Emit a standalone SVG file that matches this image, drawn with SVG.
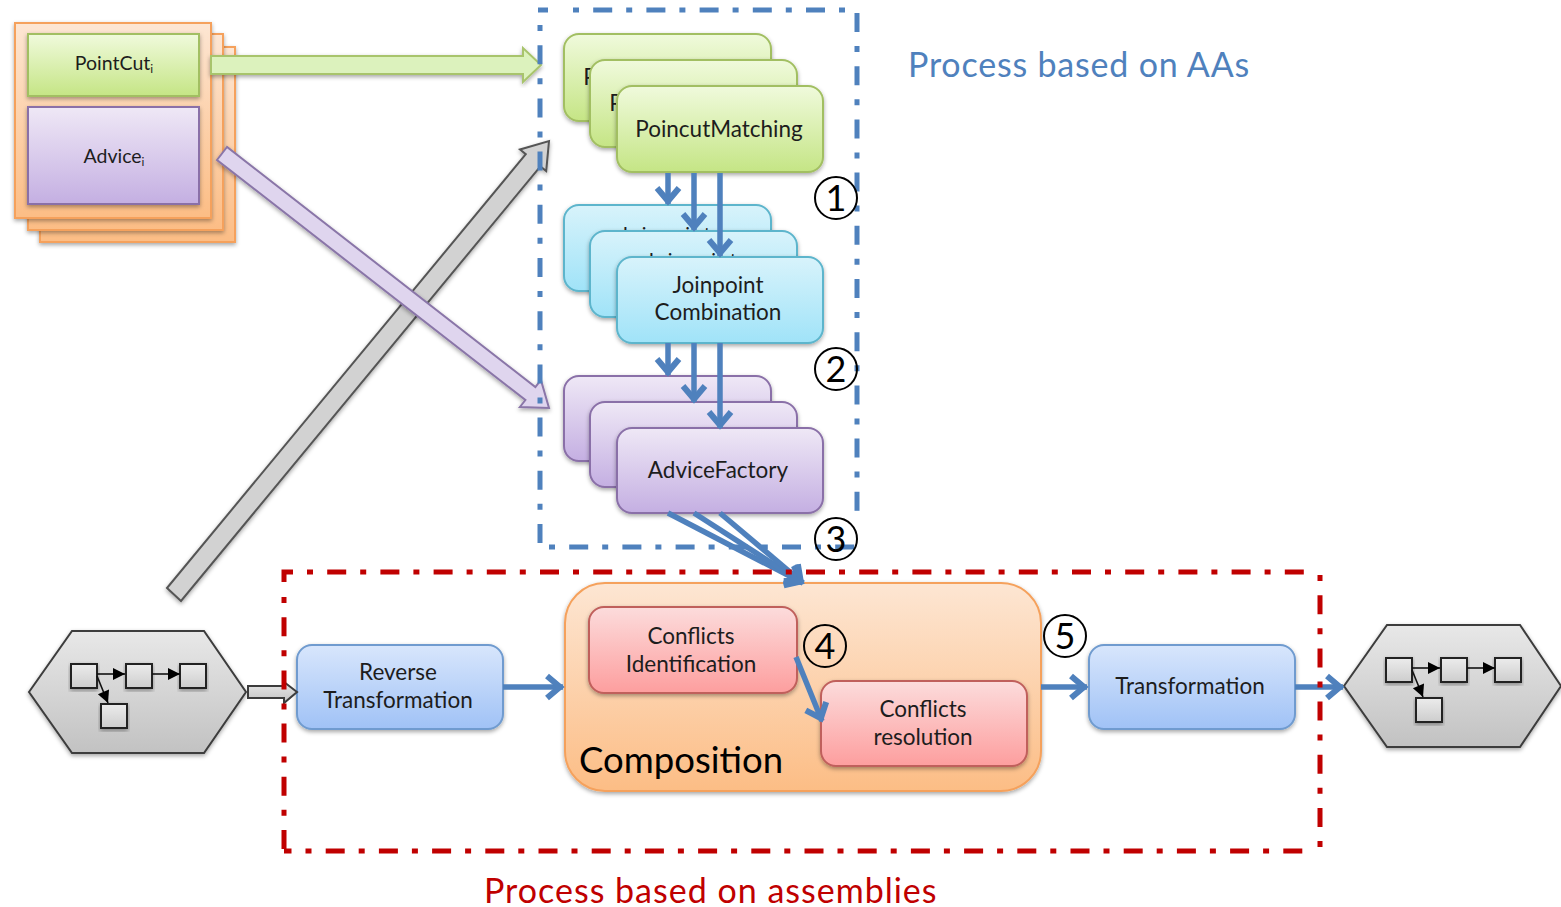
<svg xmlns="http://www.w3.org/2000/svg" width="1561" height="907" viewBox="0 0 1561 907">
<style>
text{font-family:"Lato","Open Sans","Liberation Sans",sans-serif;fill:#1d1d1d;text-anchor:middle}
.n{font-size:22.5px}
.s{font-size:19.5px}
.pk{font-size:19.5px;letter-spacing:1.5px}
.num{font-size:36px;fill:#000}
.title{text-anchor:start;font-size:34px}
.sh{filter:url(#shadow)}
.g{fill:url(#gGreen);stroke:#a2bf62;stroke-width:2}
.c{fill:url(#gCyan);stroke:#5db5cc;stroke-width:2}
.p{fill:url(#gPurple);stroke:#8a70a8;stroke-width:2}
.r{fill:url(#gPink);stroke:#c0605c;stroke-width:2}
.b{fill:url(#gBlue);stroke:#6f9bcf;stroke-width:2}
.o{fill:url(#gOrange);stroke:#f5a15c;stroke-width:2}
.h{fill:url(#gGray);stroke:#3c3c3c;stroke-width:2}
.q{fill:url(#gGray2);stroke:#222;stroke-width:2;filter:url(#shadow)}
.k{stroke:#111;stroke-width:1.6;fill:none;marker-end:url(#blk)}
.a{stroke:#4f81bd;stroke-width:5.5;fill:none;marker-end:url(#chev)}
.fb{stroke:#4f81bd;stroke-width:5;fill:none}
.fr{stroke:#c00000;stroke-width:5;fill:none}
.dd{stroke-dasharray:6 14.2 19 14}
.dn{stroke-dasharray:19 14 6 14.2}
.ci{fill:none;stroke:#000;stroke-width:2}
</style>
<defs>
<linearGradient id="gGreen" x1="0" y1="0" x2="0" y2="1"><stop offset="0" stop-color="#f0fadc"/><stop offset="1" stop-color="#c5e585"/></linearGradient>
<linearGradient id="gCyan" x1="0" y1="0" x2="0" y2="1"><stop offset="0" stop-color="#d8f3fb"/><stop offset="1" stop-color="#a0e3f8"/></linearGradient>
<linearGradient id="gPurple" x1="0" y1="0" x2="0" y2="1"><stop offset="0" stop-color="#efe8f6"/><stop offset="1" stop-color="#c4afe2"/></linearGradient>
<linearGradient id="gPink" x1="0" y1="0" x2="0" y2="1"><stop offset="0" stop-color="#fcdcdc"/><stop offset="1" stop-color="#fd9e9e"/></linearGradient>
<linearGradient id="gBlue" x1="0" y1="0" x2="0" y2="1"><stop offset="0" stop-color="#d8e6fc"/><stop offset="1" stop-color="#a0c2f6"/></linearGradient>
<linearGradient id="gOrange" x1="0" y1="0" x2="0" y2="1"><stop offset="0" stop-color="#fde6d3"/><stop offset="1" stop-color="#fcbd85"/></linearGradient>
<linearGradient id="gGray" x1="0" y1="0" x2="0" y2="1"><stop offset="0" stop-color="#e8e8e8"/><stop offset="1" stop-color="#c2c2c2"/></linearGradient>
<linearGradient id="gGray2" x1="0" y1="0" x2="0" y2="1"><stop offset="0" stop-color="#ececec"/><stop offset="1" stop-color="#cdcdcd"/></linearGradient>
<filter id="shadow" x="-10%" y="-10%" width="120%" height="125%"><feDropShadow dx="0" dy="2" stdDeviation="2" flood-color="#000" flood-opacity="0.35"/></filter>
<marker id="chev" markerUnits="userSpaceOnUse" markerWidth="34" markerHeight="34" viewBox="0 0 34 34" refX="32" refY="17" orient="auto"><path d="M16 6 L29 17 L16 28" fill="none" stroke="#4f81bd" stroke-width="6"/></marker>
<marker id="blk" markerUnits="userSpaceOnUse" markerWidth="14" markerHeight="14" viewBox="0 0 14 14" refX="13" refY="7" orient="auto"><path d="M1 1 L13 7 L1 13 Z" fill="#000"/></marker>
<g id="proc"><rect class="q" width="26" height="24"/></g>
</defs>
<rect width="1561" height="907" fill="#fff"/>

<g id="aspect-stack">
<rect class="o sh" x="40" y="47" width="195" height="195"/>
<rect class="o sh" x="28" y="34" width="195" height="196"/>
<rect class="o sh" x="15" y="23" width="196" height="195"/>
</g>
<g id="pointcut"><rect class="g sh" x="28" y="34" width="171" height="62"/><text class="s" x="114" y="70">PointCut<tspan font-size="12" dy="3">i</tspan></text></g>
<g id="advice"><rect class="p sh" x="28" y="107" width="171" height="97"/><text class="s" x="114" y="163">Advice<tspan font-size="12" dy="3">i</tspan></text></g>

<g id="pointcut-matching">
<rect class="g sh" x="564" y="34" width="207" height="87" rx="15"/><text class="n" x="667" y="85">PoincutMatching</text>
<rect class="g sh" x="590" y="60" width="207" height="87" rx="15"/><text class="n" x="693" y="111">PoincutMatching</text>
<rect class="g sh" x="617" y="86" width="206" height="86" rx="15"/><text class="n" x="719" y="137">PoincutMatching</text>
</g>
<g id="joinpoint-combination">
<rect class="c sh" x="564" y="205" width="207" height="86" rx="15"/><text class="pk" x="666" y="241">Joinpoint</text>
<rect class="c sh" x="590" y="231" width="207" height="86" rx="15"/><text class="pk" x="692" y="267">Joinpoint</text>
<rect class="c sh" x="617" y="257" width="206" height="86" rx="15"/><text class="n" x="718" y="293">Joinpoint</text><text class="n" x="718" y="320">Combination</text>
</g>
<g id="advice-factory">
<rect class="p sh" x="564" y="376" width="207" height="85" rx="15"/>
<rect class="p sh" x="590" y="402" width="207" height="85" rx="15"/>
<rect class="p sh" x="617" y="428" width="206" height="85" rx="15"/><text class="n" x="718" y="478">AdviceFactory</text>
</g>

<g id="composition"><rect class="o sh" x="565" y="583" width="476" height="208" rx="40"/><text x="681" y="773" font-size="36.5" style="fill:#000">Composition</text></g>
<g id="conflicts-identification"><rect class="r sh" x="589" y="607" width="208" height="86" rx="15"/><text class="n" x="691" y="644">Conflicts</text><text class="n" x="691" y="672">Identification</text></g>
<g id="conflicts-resolution"><rect class="r sh" x="821" y="681" width="206" height="85" rx="15"/><text class="n" x="923" y="717">Conflicts</text><text class="n" x="923" y="745">resolution</text></g>
<g id="reverse-transformation"><rect class="b sh" x="297" y="645" width="206" height="84" rx="15"/><text class="n" x="398" y="680">Reverse</text><text class="n" x="398" y="708">Transformation</text></g>
<g id="transformation"><rect class="b sh" x="1089" y="645" width="206" height="84" rx="15"/><text class="n" x="1190" y="694">Transformation</text></g>

<g id="source-process">
<polygon class="h sh" points="29,692 72,631 204,631 246,692 204,753 72,753"/>
<use href="#proc" x="71" y="664"/><use href="#proc" x="126" y="664"/><use href="#proc" x="180" y="664"/><use href="#proc" x="101" y="704"/>
<path class="k" d="M97 674H125"/><path class="k" d="M152 674H180"/><path class="k" d="M97 676L108 703"/>
</g>
<g id="target-process">
<polygon class="h sh" points="1344,686 1387,625 1520,625 1561,686 1520,747 1387,747"/>
<use href="#proc" x="1386" y="658"/><use href="#proc" x="1441" y="658"/><use href="#proc" x="1495" y="658"/><use href="#proc" x="1416" y="698"/>
<path class="k" d="M1412 668H1440"/><path class="k" d="M1467 668H1495"/><path class="k" d="M1412 670L1423 697"/>
</g>

<g id="connectors">
<polygon class="sh" fill="#d2d2d2" stroke="#555" stroke-width="2" points="167,588 181,601 540.4,166.4 546.2,171.1 549,141 520,149.5 525.8,154.2"/>
<polygon class="sh" fill="#dfd5ee" stroke="#8a76a8" stroke-width="2" points="227,147 217,160 525.4,400 519.9,407 549,408 540.9,380 535.4,387"/>
<polygon class="sh" fill="#dcf2bd" stroke="#a8c46c" stroke-width="2" points="211,56 523,56 523,48 541,65 523,82 523,74 211,74"/>
<polygon fill="url(#gGray)" stroke="#3c3c3c" stroke-width="2" points="248,686 284,686 284,682 297,692 284,703 284,698 248,698"/>
<path class="a" d="M668 173V204"/><path class="a" d="M694 173V230"/><path class="a" d="M720 173V256"/>
<path class="a" d="M668 343V375"/><path class="a" d="M694 343V402"/><path class="a" d="M720 343V428"/>
<path class="a" d="M668 513L803 583"/><path class="a" d="M694 513L803 583"/><path class="a" d="M720 513L803 583"/>
<path class="a" d="M503 687H563"/><path class="a" d="M1041 687H1087"/><path class="a" d="M1295 687H1343"/>
<path class="a" d="M796 657L822 721"/>
</g>

<g id="frame-aas">
<path class="fb" d="M538 10H548"/><path class="fb dd" d="M573 10H850"/>
<path class="fb dd" d="M540 25V547"/><path class="fb dn" d="M857 13V515"/><path class="fb dd" d="M549 547H855"/>
</g>
<g id="frame-assemblies">
<path class="fr" d="M293 572H284V582"/><path class="fr dd" d="M307 572H1315"/>
<path class="fr dd" d="M284 597V851"/><path class="fr dd" d="M1320 575V855"/>
<path class="fr dn" stroke-dashoffset="11.5" d="M284 851H1310"/>
</g>

<g id="step-1"><circle class="ci" cx="836" cy="198" r="21"/><text class="num" x="836" y="211">1</text></g>
<g id="step-2"><circle class="ci" cx="836" cy="369" r="21"/><text class="num" x="836" y="382">2</text></g>
<g id="step-3"><circle class="ci" cx="836" cy="539" r="21"/><text class="num" x="836" y="552">3</text></g>
<g id="step-4"><circle class="ci" cx="825" cy="646" r="21"/><text class="num" x="825" y="659">4</text></g>
<g id="step-5"><circle class="ci" cx="1065" cy="636" r="21"/><text class="num" x="1065" y="649">5</text></g>

<text class="title" x="908" y="77" letter-spacing="0.8" style="fill:#4f81bd">Process based on AAs</text>
<text class="title" x="484" y="903" letter-spacing="1" style="fill:#c00000">Process based on assemblies</text>
</svg>
